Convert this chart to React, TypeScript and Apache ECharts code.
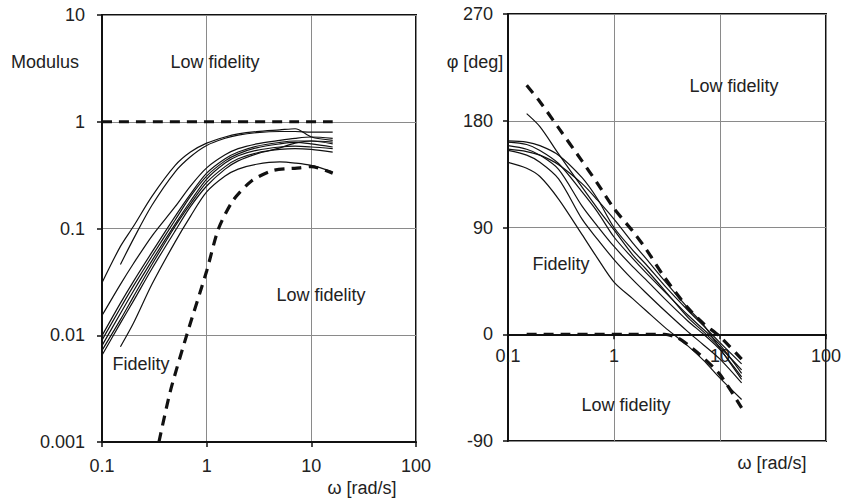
import React, { useEffect, useRef } from "react";
import * as echarts from "echarts";

// ---------- data ----------
const omega = [0.1, 0.15, 0.2, 0.3, 0.5, 0.7, 1, 1.5, 2, 3, 5, 7, 10, 16];

// Modulus (left) – solid measured curves
const modA = [0.031, 0.068, 0.105, 0.2, 0.39, 0.52, 0.63, 0.72, 0.77, 0.81, 0.84, 0.86, 0.72, 0.67];
const modB = [null, 0.046, 0.08, 0.165, 0.34, 0.47, 0.6, 0.7, 0.75, 0.79, 0.81, 0.81, 0.8, 0.8];
const modC = [0.0153, 0.03, 0.047, 0.085, 0.16, 0.25, 0.37, 0.49, 0.56, 0.62, 0.67, 0.7, 0.72, 0.7];
const modD = [0.0099, 0.02, 0.032, 0.06, 0.13, 0.21, 0.33, 0.45, 0.52, 0.59, 0.64, 0.66, 0.66, 0.645];
const modE = [0.009, 0.018, 0.029, 0.055, 0.12, 0.2, 0.31, 0.43, 0.5, 0.57, 0.62, 0.64, 0.62, 0.58];
const modF = [0.008, 0.016, 0.026, 0.05, 0.11, 0.18, 0.29, 0.41, 0.48, 0.54, 0.58, 0.59, 0.58, 0.56];
const modG = [0.0072, 0.014, 0.023, 0.046, 0.105, 0.17, 0.27, 0.38, 0.45, 0.51, 0.55, 0.56, 0.55, 0.52];
const modI = [0.0065, 0.013, 0.021, 0.042, 0.095, 0.16, 0.25, 0.36, 0.43, 0.5, 0.57, 0.63, 0.66, 0.62];
const modH = [null, 0.0078, 0.013, 0.03, 0.075, 0.13, 0.22, 0.31, 0.36, 0.4, 0.42, 0.41, 0.39, 0.34];
const modulusCurves = [modA, modB, modC, modD, modE, modF, modG, modI, modH];

// Modulus boundaries (dashed)
const unityOmega = [0.1, 16];
const unity = [1, 1];
const modBoundOmega = [0.35, 0.45, 0.65, 1, 1.3, 1.8, 2.7, 4.3, 7.8, 10, 16];
const modBound = [0.001, 0.003, 0.0103, 0.04, 0.1, 0.185, 0.28, 0.35, 0.37, 0.38, 0.33];

// Phase (right) – solid measured curves
const phA = [145, 140, 133, 114, 84, 64, 44, 30, 20, 6, -10, -22, -37, -55];
const phB = [155, 151, 145, 131, 97, 80, 63, 46, 35, 20, 2, -9, -21, -41];
const phC = [159, 156, 151, 139, 108, 91, 74, 57, 46, 30, 11, 0, -13, -36];
const phD = [162, 160, 155, 144, 120, 103, 82, 64, 52, 36, 16, 4, -9, -33];
const phE = [163, 162, 159, 151, 132, 114, 90, 71, 59, 41, 20, 7, -7, -25];
const phF = [156, 154, 151, 143, 127, 113, 97, 77, 64, 45, 22, 8, -12, -38];
const phG = [null, 186, 175, 152, 124, 106, 88, 67, 55, 37, 14, 2, -11, -30];
const phaseCurves = [phA, phB, phC, phD, phE, phF, phG];

// Phase boundaries (dashed)
const phUpper = [null, 210, 196, 174, 146, 127, 106, 87, 72, 48, 22, 9, -2, -21];
const phLowOmega = [0.15, 3, 4, 5, 7, 10, 16];
const phLow = [0, 0, -3, -9, -20, -34, -62];

// tick labels
const xTickLabels = ["0.1", "1", "10", "100"];
const modTickLabels = ["0.001", "0.01", "0.1", "1", "10"];
const phaseTickLabels = ["-90", "0", "90", "180", "270"];
const phaseMin = -90;
const phaseMax = 270;

// ---------- helpers ----------
const pairs = (xs: number[], ys: (number | null)[]) =>
  xs.map((x, i) => [x, ys[i]]).filter((p) => p[1] !== null);

const FONT = "'Liberation Sans', Arial, sans-serif";
const INK = "#111";
const FS = 18;

export default function App() {
  const ref = useRef<HTMLDivElement>(null);

  useEffect(() => {
    const chart = echarts.init(ref.current!, null, { renderer: "svg" });

    const solid = (data: any[], xi: number) => ({
      type: "line",
      xAxisIndex: xi,
      yAxisIndex: xi,
      data,
      symbol: "none",
      smooth: 0.3,
      lineStyle: { color: INK, width: 1.2 },
      silent: true,
      z: 3,
    });
    const dashed = (data: any[], xi: number) => ({
      type: "line",
      xAxisIndex: xi,
      yAxisIndex: xi,
      data,
      symbol: "none",
      smooth: 0.25,
      lineStyle: { color: INK, width: 3.2, type: [10, 7] },
      silent: true,
      z: 4,
    });

    const logLabel = (labels: string[], minExp: number) => (v: number) => {
      const e = Math.round(Math.log10(v));
      return labels[e - minExp] ?? "";
    };

    const axisText = { color: "#222", fontSize: FS, fontFamily: FONT };
    const frame = { show: true, lineStyle: { color: INK, width: 2 } };
    const tick = { show: true, length: 5, lineStyle: { color: INK, width: 1.5 } };
    const split = { show: true, lineStyle: { color: "#8a8a8a", width: 1 } };

    const series: any[] = [];
    modulusCurves.forEach((c) => series.push(solid(pairs(omega, c), 0)));
    series.push(dashed(pairs(unityOmega, unity), 0));
    series.push(dashed(pairs(modBoundOmega, modBound), 0));
    phaseCurves.forEach((c) => series.push(solid(pairs(omega, c), 1)));
    series.push(dashed(pairs(omega, phUpper), 1));
    series.push(dashed(pairs(phLowOmega, phLow), 1));

    const txt = (text: string, x: number, y: number) => ({
      type: "text",
      x,
      y,
      silent: true,
      z: 10,
      style: {
        text,
        fill: "#222",
        font: `${FS}px ${FONT}`,
        align: "center",
        verticalAlign: "middle",
      },
    });

    const rightH = 427;
    // x axis of the phase plot sits on the zero line (offset up from the bottom edge)
    const zeroOffset = -(rightH * (0 - phaseMin)) / (phaseMax - phaseMin);

    chart.setOption({
      animation: false,
      backgroundColor: "#fff",
      grid: [
        { left: 102, top: 15, width: 314, height: 427, show: true, borderColor: INK, borderWidth: 2, backgroundColor: "transparent" },
        { left: 508, top: 14, width: 319, height: rightH, show: true, borderColor: INK, borderWidth: 2, backgroundColor: "transparent" },
      ],
      xAxis: [
        {
          type: "log",
          logBase: 10,
          gridIndex: 0,
          min: 0.1,
          max: 100,
          axisLine: { ...frame, onZero: false },
          axisTick: tick,
          splitLine: split,
          axisLabel: { ...axisText, margin: 15, formatter: logLabel(xTickLabels, -1) },
        },
        {
          type: "log",
          logBase: 10,
          gridIndex: 1,
          min: 0.1,
          max: 100,
          offset: zeroOffset,
          axisLine: { ...frame, onZero: false },
          axisTick: tick,
          splitLine: split,
          axisLabel: { ...axisText, margin: 13, formatter: logLabel(xTickLabels, -1) },
        },
      ],
      yAxis: [
        {
          type: "log",
          logBase: 10,
          gridIndex: 0,
          min: 0.001,
          max: 10,
          axisLine: frame,
          axisTick: tick,
          splitLine: split,
          axisLabel: { ...axisText, margin: 17, formatter: logLabel(modTickLabels, -3) },
        },
        {
          type: "value",
          gridIndex: 1,
          min: phaseMin,
          max: phaseMax,
          interval: 90,
          axisLine: frame,
          axisTick: tick,
          splitLine: split,
          axisLabel: {
            ...axisText,
            margin: 15,
            formatter: (v: number) => phaseTickLabels[Math.round((v - phaseMin) / 90)] ?? "",
          },
        },
      ],
      series,
      graphic: [
        txt("Modulus", 45, 62),
        txt("Low fidelity", 215, 62),
        txt("Low fidelity", 321, 295),
        txt("Fidelity", 141, 364),
        txt("ω [rad/s]", 362, 488),
        txt("φ [deg]", 475, 62),
        txt("Low fidelity", 734, 86),
        txt("Fidelity", 561, 264),
        txt("Low fidelity", 626, 405),
        txt("ω [rad/s]", 772, 463),
      ],
    });

    return () => chart.dispose();
  }, []);

  return (
    <div
      ref={ref}
      style={{ position: "fixed", left: 0, top: 0, width: 844, height: 501, background: "#fff" }}
    />
  );
}
